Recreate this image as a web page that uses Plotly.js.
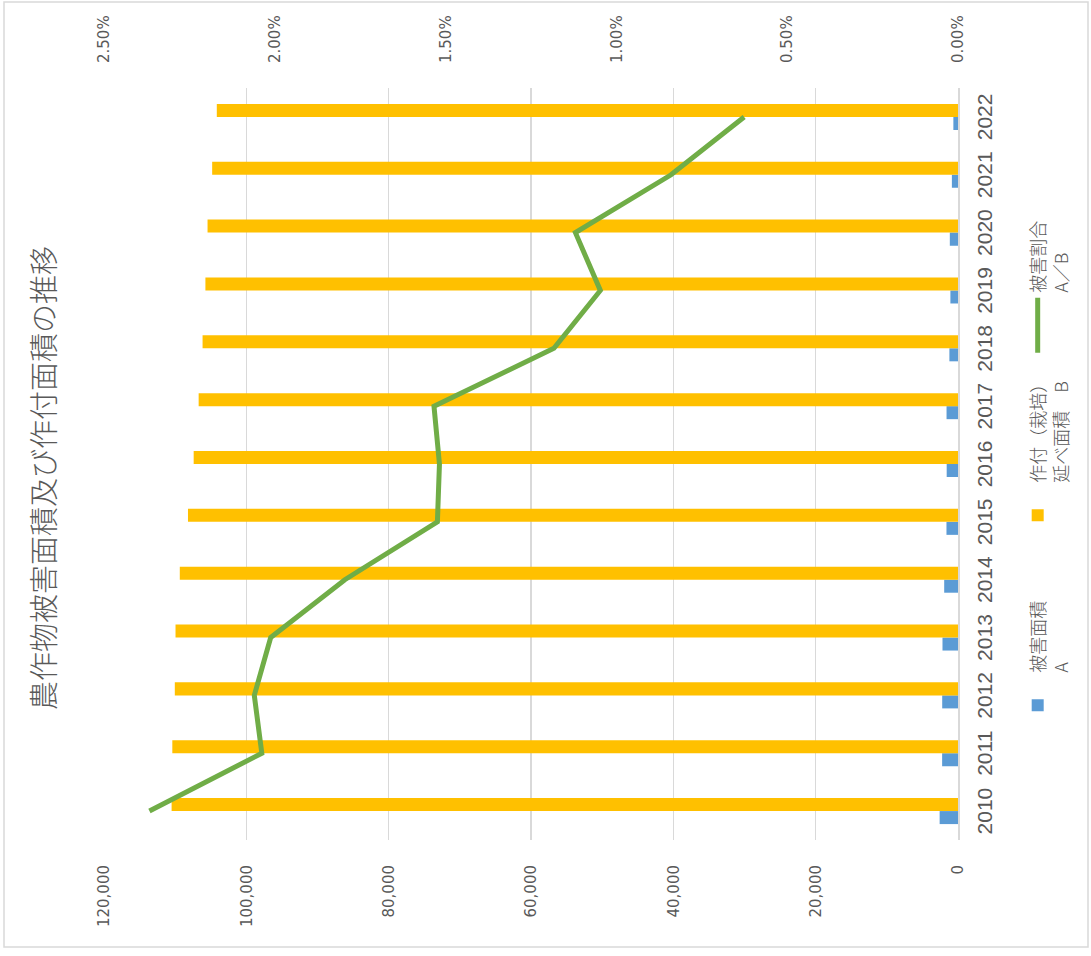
<!DOCTYPE html>
<html>
<head>
<meta charset="utf-8">
<script src="https://cdn.plot.ly/plotly-3.0.1.min.js"></script>
<style>
  html, body { margin: 0; padding: 0; background: #ffffff; overflow: hidden; width: 1091px; height: 956px; }
  #chart {
    position: absolute; left: 0; top: 0;
    width: 956px; height: 1091px;
    transform-origin: 0 0;
    transform: translate(0px, 956px) rotate(-90deg);
  }
</style>
</head>
<body>
<div id="chart"></div>
<script>
// ---- data ----
const years = ["2010","2011","2012","2013","2014","2015","2016","2017","2018","2019","2020","2021","2022"];
const damageArea = [2580, 2230, 2220, 2180, 1940, 1620, 1590, 1610, 1210, 1070, 1150, 860, 650];
const plantedArea = [110500, 110400, 110050, 109950, 109350, 108200, 107400, 106700, 106150, 105750, 105450, 104800, 104150];
const damageRatio = [0.02367, 0.02038, 0.02060, 0.02012, 0.01795, 0.01524, 0.01518, 0.01534, 0.01183, 0.01047, 0.01120, 0.00840, 0.00626];
const seriesNames = ["被害面積<br>A\u3000\u3000\u3000", "作付（栽培）<br>延べ面積\u3000B", "被害割合<br>A／B\u3000\u3000"];
const titleText = "農作物被害面積及び作付面積の推移";

const gray = "#595959";
const grid = "#d9d9d9";
const jp = "'Noto Sans CJK JP', 'Noto Sans', sans-serif";
const num = "'DejaVu Sans', Verdana, sans-serif";

const traces = [
  { type: "bar", x: years, y: damageArea, name: seriesNames[0],
    marker: { color: "#5b9bd5" }, yaxis: "y", hoverinfo: "skip" },
  { type: "bar", x: years, y: plantedArea, name: seriesNames[1],
    marker: { color: "#ffc000" }, yaxis: "y", hoverinfo: "skip" },
  { type: "scatter", mode: "lines", x: years, y: damageRatio, name: seriesNames[2],
    line: { color: "#70ad47", width: 5 }, yaxis: "y2", hoverinfo: "skip" }
];

const layout = {
  width: 956, height: 1091,
  margin: { l: 116, r: 88, t: 104, b: 133 },
  paper_bgcolor: "#ffffff", plot_bgcolor: "#ffffff",
  barmode: "group", bargap: 0.55, bargroupgap: 0,
  showlegend: true,
  title: { text: titleText, font: { family: jp, size: 29, color: gray, weight: 300 },
           x: 0.5, xref: "container", xanchor: "center",
           y: 1 - 45/1091, yref: "container", yanchor: "middle" },
  xaxis: {
    type: "category", showgrid: false,
    showline: true, linecolor: grid, linewidth: 1.5,
    ticks: "", ticklabelstandoff: 7,
    tickfont: { family: "'Liberation Sans Narrow', 'Liberation Sans', Arial, sans-serif", size: 21, color: gray }
  },
  yaxis: {
    range: [0, 120000], dtick: 20000, tickformat: ",",
    showgrid: true, gridcolor: grid, gridwidth: 1.5,
    zeroline: false, showline: false, ticks: "",
    ticklabelstandoff: 24,
    tickfont: { family: num, size: 15, color: gray }
  },
  yaxis2: {
    overlaying: "y", side: "right",
    range: [0, 0.025], dtick: 0.005, tickformat: ".2%",
    showgrid: false, zeroline: false, showline: false, ticks: "",
    ticklabelstandoff: 24,
    tickfont: { family: num, size: 15, color: gray }
  },
  legend: {
    orientation: "h", x: 0.515, xanchor: "center", xref: "paper",
    y: -0.072, yanchor: "top", valign: "top",
    itemwidth: 55, traceorder: "normal",
    entrywidthmode: "pixels", entrywidth: 120,
    font: { family: jp, size: 18, color: gray, weight: 300 }
  },
  shapes: [{
    type: "rect", xref: "paper", yref: "paper",
    x0: (9 - 116) / 752, x1: (954 - 116) / 752,
    y0: (958 - 1088) / 854, y1: (958 - 4) / 854,
    line: { color: grid, width: 1.5 }, fillcolor: "rgba(0,0,0,0)", layer: "below"
  }]
};

Plotly.newPlot("chart", traces, layout, { staticPlot: true, displayModeBar: false });
</script>
</body>
</html>
